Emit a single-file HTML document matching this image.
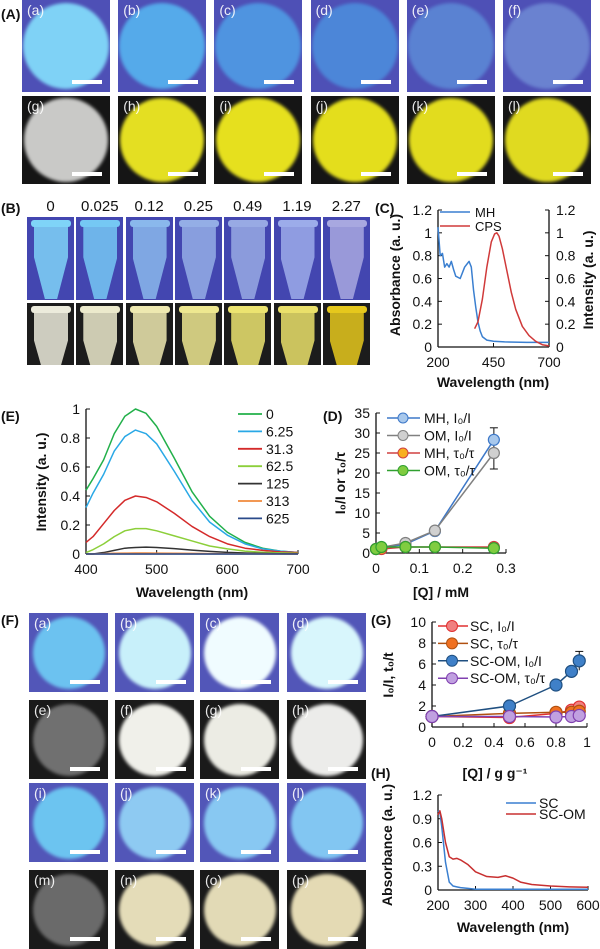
<!DOCTYPE html>
<html><head><meta charset="utf-8">
<style>
body{margin:0;width:600px;height:949px;background:#fff;position:relative;overflow:hidden;font-family:"Liberation Sans",sans-serif;}
.abs{position:absolute;}
.lbl{position:absolute;font-weight:bold;font-size:14px;color:#111;}
.tile{position:absolute;overflow:hidden;}
.tl{position:absolute;left:5px;top:2px;color:#fff;font-size:14px;opacity:.9}
.bar{position:absolute;height:4px;background:#fff;}
.num{position:absolute;font-size:15px;width:60px;text-align:center;color:#111}
svg{position:absolute;left:0;top:0;}
</style></head><body>
<div class="lbl" style="left:1px;top:6px">(A)</div>
<div class="lbl" style="left:1px;top:200px">(B)</div>
<div class="lbl" style="left:375px;top:200px">(C)</div>
<div class="lbl" style="left:1px;top:408px">(E)</div>
<div class="lbl" style="left:323px;top:408px">(D)</div>
<div class="lbl" style="left:1px;top:612px">(F)</div>
<div class="lbl" style="left:371px;top:612px">(G)</div>
<div class="lbl" style="left:371px;top:765px">(H)</div>
<div id="photos"></div>
<svg id="charts" width="600" height="949"></svg>
<script>
// ---------- Photo panels ----------
const aRow1 = ['#7fd2f6','#55aaea','#4f94e0','#4c86d8','#5a82d2','#6a82d0'];
const aRow2 = ['#c9c9c7','#e4df22','#e6e01e','#e4de1c','#e2dc1e','#e0da20'];
const aLetters1 = ['a','b','c','d','e','f'];
const aLetters2 = ['g','h','i','j','k','l'];
const tubeLabels = ['0','0.025','0.12','0.25','0.49','1.19','2.27'];
const tubeBlue = ['#7fd4f8','#75c8f4','#8ab8ec','#94aee6','#98aae4','#9cacea','#a8a8e0'];
const tubeYel = ['#ecebdc','#eceacc','#eee9b0','#eee890','#ece470','#eae06a','#e6c81c'];
const fBlue1 = ['#6cc2f0','#c8f0fa','#f0fcff','#d8f6fc'];
const fDark1 = ['#707070','#f0f0ea','#ecece4','#ececea'];
const fBlue2 = ['#6cc4f0','#8ecaf2','#88c8f2','#82c6f2'];
const fDark2 = ['#6a6a6a','#e4dcb8','#e2dab6','#e4dab4'];
const P = document.getElementById('photos');
function tile(x,y,w,h,bg,circ,letter,rad,name,bar){
  const d=document.createElement('div');
  d.className='tile';
  
  
  d.style.cssText=`left:${x}px;top:${y}px;width:${w}px;height:${h}px;background:${bg};`;
  const c=document.createElement('div');
  c.className='abs';
  c.style.cssText=`left:${w/2-rad}px;top:${h/2-rad}px;width:${2*rad}px;height:${2*rad}px;border-radius:50%;background:${circ};filter:blur(1.5px);`;
  d.appendChild(c);
  if(letter){const t=document.createElement('div');t.className='tl';t.textContent='('+letter+')';d.appendChild(t);}
  if(bar){const b=document.createElement('div');b.className='bar';b.style.cssText+=`left:${w-38}px;top:${h-12}px;width:${30}px;`;d.appendChild(b);}
  P.appendChild(d);
}
for(let i=0;i<6;i++){
  tile(22+i*96.2,0,88,92,'#4e50b6',aRow1[i],aLetters1[i],43,'photo-uv-'+aLetters1[i],true);
  tile(22+i*96.2,96,88,88,'#151515',aRow2[i],aLetters2[i],42,'photo-day-'+aLetters2[i],true);
}
for(let i=0;i<7;i++){
  const x=27+i*49.3;
  const n=document.createElement('div');
  n.className='num';
  
  
  n.style.left=(x+23.5-30)+'px';n.style.top='198px';n.textContent=tubeLabels[i];P.appendChild(n);
  for(const [y,h,bg,col,nm] of [[217,83,'#4346b0',tubeBlue[i],'tube-uv'],[303,62,'#1c1c1c',tubeYel[i],'tube-day']]){
    const d=document.createElement('div');
    d.className='tile';
    
    
    d.style.cssText=`left:${x}px;top:${y}px;width:47px;height:${h}px;background:${bg};`;
    const t=document.createElement('div');
    t.className='abs';
    t.style.cssText=`left:7px;top:6px;width:34px;height:${h===83?76:70}px;background:${col};clip-path:polygon(0 0,100% 0,100% 45%,68% 100%,32% 100%,0 45%);opacity:.85`;
    d.appendChild(t);
    const cap=document.createElement('div');cap.className='abs';
    cap.style.cssText=`left:4px;top:3px;width:40px;height:7px;background:${col};border-radius:3px;`;
    d.appendChild(cap);
    P.appendChild(d);
  }
}
const fx=[29,115,200,287], fy=[613,700,783,870];
const fl=[['a','b','c','d'],['e','f','g','h'],['i','j','k','l'],['m','n','o','p']];
const fc=[fBlue1,fDark1,fBlue2,fDark2];
const fbg=['#5256b8','#1a1a1a','#5256b8','#1a1a1a'];
for(let r=0;r<4;r++)for(let c=0;c<4;c++)
  tile(fx[c],fy[r],79,79,fbg[r],fc[r][c],fl[r][c],36,'photo-f-'+fl[r][c],true);

// ---------- Chart data ----------
// (C)
const cMHx = [200,210,220,230,240,250,260,270,280,300,320,340,350,360,370,380,390,400,420,450,500,600,700];
const cMHy = [1.05,0.8,0.82,0.7,0.73,0.7,0.75,0.68,0.62,0.6,0.7,0.75,0.7,0.5,0.35,0.22,0.14,0.09,0.06,0.05,0.045,0.04,0.04];
const cCPSx = [365,380,400,420,440,455,465,475,490,510,530,550,580,610,640,670,700];
const cCPSy = [0.16,0.22,0.42,0.7,0.92,0.99,1.0,0.97,0.86,0.67,0.48,0.33,0.18,0.1,0.05,0.02,0.01];
const cTicksY = [0,0.2,0.4,0.6,0.8,1,1.2];
const cTicksX = [200,450,700];
// (E)
const eX = [400,410,425,440,455,470,485,500,525,550,575,600,625,650,675,700];
const eLabels = ['0','6.25','31.3','62.5','125','313','625'];
const eColors = ['#22b04a','#29a8e6','#d42a2a','#8ccf3a','#333','#f08a3c','#2a4a8a'];
const e0   = [0.44,0.52,0.65,0.83,0.95,1.0,0.97,0.88,0.66,0.43,0.26,0.15,0.08,0.04,0.02,0.01];
const e625 = [0.32,0.42,0.55,0.71,0.81,0.855,0.83,0.76,0.57,0.37,0.22,0.13,0.07,0.035,0.02,0.01];
const e313 = [0.08,0.12,0.21,0.3,0.37,0.4,0.39,0.36,0.28,0.19,0.12,0.07,0.04,0.025,0.015,0.01];
const e625b= [0.01,0.03,0.07,0.12,0.16,0.175,0.175,0.16,0.125,0.09,0.055,0.035,0.02,0.012,0.008,0.005];
const e125 = [0,0,0.01,0.025,0.04,0.045,0.047,0.045,0.037,0.027,0.018,0.011,0.007,0.004,0.002,0.001];
const e313b= [0,0,0.003,0.005,0.006,0.007,0.007,0.006,0.005,0.004,0.003,0.002,0.001,0.001,0,0];
const e625c= [0,0,0,0,0,0,0,0,0,0,0,0,0,0,0,0];
const eSeries = [e0,e625,e313,e625b,e125,e313b,e625c];
// (D)
const dX = [0,0.0125,0.068,0.136,0.272];
const dMHI = [1,1.3,2.2,5.5,28.3];
const dOMI = [1,1.4,2.5,5.6,25];
const dMHT = [1,1.0,1.5,1.5,1.5];
const dOMT = [1,1.5,1.5,1.5,1.2];
const dErr = [0,0,0,0,3];
const dNames = ['MH, I\u2080/I','OM, I\u2080/I','MH, \u03c4\u2080/\u03c4','OM, \u03c4\u2080/\u03c4'];
// (G)
const gX = [0,0.5,0.8,0.9,0.95];
const gSCI = [1,0.9,1.3,1.6,1.9];
const gSCT = [1,1.3,1.4,1.4,1.5];
const gOMI = [1,2,4,5.3,6.3];
const gOMT = [1,1,0.95,1,1.1];
const gErr = [0,0,0,0.4,0.9];
const gNames = ['SC, I\u2080/I','SC, \u03c4\u2080/\u03c4','SC-OM, I\u2080/I','SC-OM, \u03c4\u2080/\u03c4'];
// (H)
const hX = [200,205,210,220,230,240,250,260,280,300,330,360,380,400,420,450,500,550,600];
const hSC = [1.0,0.98,0.8,0.35,0.1,0.05,0.04,0.03,0.02,0.01,0.01,0.01,0.01,0.01,0.01,0.01,0.01,0.01,0.01];
const hOM = [0.95,1.0,0.9,0.6,0.42,0.39,0.4,0.38,0.32,0.23,0.17,0.16,0.18,0.15,0.1,0.07,0.05,0.04,0.035];

// ---------- Drawing helpers ----------
const S=document.getElementById('charts');
const NS='http://www.w3.org/2000/svg';
function el(tag,attrs,name,parent){
  const e=document.createElementNS(NS,tag);
  for(const k in attrs)e.setAttribute(k,attrs[k]);
  
  
  (parent||S).appendChild(e);return e;
}
function txt(x,y,s,name,opts){
  opts=opts||{};
  const t=el('text',{x:x,y:y,'font-size':opts.size||14,'text-anchor':opts.anchor||'middle','font-weight':opts.bold?'bold':'normal',fill:'#111','font-family':'Liberation Sans, DejaVu Sans, sans-serif'},name);
  if(opts.rot)t.setAttribute('transform',`rotate(-90 ${x} ${y})`);
  t.textContent=s;return t;
}
function scale(d0,d1,r0,r1){return v=>r0+(v-d0)/(d1-d0)*(r1-r0);}
function poly(xs,ys,sx,sy,color,name,w){
  el('polyline',{points:xs.map((x,i)=>sx(x)+','+sy(ys[i])).join(' '),fill:'none',stroke:color,'stroke-width':w||1.5,'stroke-linejoin':'round'},name);
}
function axes(sx,sy,x0,x1,y0,y1,xt,yt,name,opt){
  opt=opt||{};
  el('line',{x1:sx(x0),y1:sy(y0),x2:sx(x0),y2:sy(y1),stroke:'#111','stroke-width':1.3},name+'-y-axis');
  el('line',{x1:sx(x0),y1:sy(y0),x2:sx(x1),y2:sy(y0),stroke:'#111','stroke-width':1.3},name+'-x-axis');
  yt.forEach(v=>{el('line',{x1:sx(x0),y1:sy(v),x2:sx(x0)+4,y2:sy(v),stroke:'#111'},name+'-y-tick');
    txt(sx(x0)-6,sy(v)+5,String(v),name+'-y-tick-label',{anchor:'end',size:opt.fs||14});});
  xt.forEach(v=>{el('line',{x1:sx(v),y1:sy(y0),x2:sx(v),y2:sy(y0)-4,stroke:'#111'},name+'-x-tick');
    txt(sx(v),sy(y0)+20,String(v),name+'-x-tick-label',{size:opt.fs||14});});
}
function markers(xs,ys,sx,sy,fill,stroke,name,r){
  xs.forEach((x,i)=>el('circle',{cx:sx(x),cy:sy(ys[i]),r:r||5,fill:fill,stroke:stroke,'stroke-width':1.2},name));
}

// ---------- (C) ----------
{
  const sx=scale(200,700,438,549), sy=scale(0,1.2,347,210);
  axes(sx,sy,200,700,0,1.2,cTicksX,cTicksY,'c');
  el('line',{x1:549,y1:sy(0),x2:549,y2:sy(1.2),stroke:'#111','stroke-width':1.3},'c-right-axis');
  cTicksY.forEach(v=>{el('line',{x1:549,y1:sy(v),x2:545,y2:sy(v),stroke:'#111'},'c-right-tick');
    txt(556,sy(v)+5,String(v),'c-right-tick-label',{anchor:'start'});});
  poly(cMHx,cMHy,sx,sy,'#3a7fd0','c-mh-line');
  poly(cCPSx,cCPSy,sx,sy,'#d03a3a','c-cps-line');
  el('line',{x1:440,y1:212,x2:470,y2:212,stroke:'#3a7fd0','stroke-width':1.5},'c-legend-mh-swatch');
  txt(475,217,'MH','c-legend-mh',{anchor:'start',size:13});
  el('line',{x1:440,y1:226,x2:470,y2:226,stroke:'#d03a3a','stroke-width':1.5},'c-legend-cps-swatch');
  txt(475,231,'CPS','c-legend-cps',{anchor:'start',size:13});
  txt(400,275,'Absorbance (a. u.)','c-y-title',{rot:1,bold:1});
  txt(593,280,'Intensity (a. u.)','c-y2-title',{rot:1,bold:1});
  txt(493,387,'Wavelength (nm)','c-x-title',{bold:1});
}
// ---------- (E) ----------
{
  const sx=scale(400,700,86,298), sy=scale(0,1,554,409);
  axes(sx,sy,400,700,0,1,[400,500,600,700],[0,0.2,0.4,0.6,0.8,1],'e');
  eSeries.forEach((s,i)=>poly(eX,s,sx,sy,eColors[i],'e-curve-'+eLabels[i]));
  eLabels.forEach((l,i)=>{const y=414+i*17.4;
    el('line',{x1:238,y1:y,x2:262,y2:y,stroke:eColors[i],'stroke-width':1.8},'e-legend-swatch');
    txt(266,y+5,l,'e-legend-entry',{anchor:'start'});});
  txt(46,482,'Intensity (a. u.)','e-y-title',{rot:1,bold:1});
  txt(192,597,'Wavelength (nm)','e-x-title',{bold:1});
}
// ---------- (D) ----------
{
  const sx=scale(0,0.3,376,506), sy=scale(0,35,553,413);
  axes(sx,sy,0,0.3,0,35,[0,0.1,0.2,0.3],[0,5,10,15,20,25,30,35],'d');
  dX.forEach((x,i)=>{if(dErr[i]){
    el('line',{x1:sx(x),y1:sy(dOMI[i]-dErr[i]-1),x2:sx(x),y2:sy(dMHI[i]+dErr[i]),stroke:'#111'},'d-error-bar');
    el('line',{x1:sx(x)-4,y1:sy(dMHI[i]+dErr[i]),x2:sx(x)+4,y2:sy(dMHI[i]+dErr[i]),stroke:'#111'},'d-error-cap');
    el('line',{x1:sx(x)-4,y1:sy(dOMI[i]-dErr[i]-1),x2:sx(x)+4,y2:sy(dOMI[i]-dErr[i]-1),stroke:'#111'},'d-error-cap');}});
  const ds=[[dMHI,'#3d78c8','#a8c8ec'],[dOMI,'#808080','#d0d0d0'],[dMHT,'#d04040','#f8b020'],[dOMT,'#30a030','#80cc40']];
  ds.forEach((d,k)=>{poly(dX,d[0],sx,sy,d[1],'d-line-'+k);markers(dX,d[0],sx,sy,d[2],d[1],'d-point-'+k,5.5);});
  dNames.forEach((n,i)=>{const y=418+i*17.5;
    el('line',{x1:387,y1:y,x2:420,y2:y,stroke:ds[i][1],'stroke-width':1.5},'d-legend-swatch');
    el('circle',{cx:403,cy:y,r:5,fill:ds[i][2],stroke:ds[i][1]},'d-legend-marker');
    txt(424,y+5,n,'d-legend-entry',{anchor:'start'});});
  txt(345,483,'I\u2080/I or \u03c4\u2080/\u03c4','d-y-title',{rot:1,bold:1});
  txt(441,597,'[Q] / mM','d-x-title',{bold:1});
}
// ---------- (G) ----------
{
  const sx=scale(0,1,432,587), sy=scale(0,10,727,622);
  axes(sx,sy,0,1,0,10,[0,0.2,0.4,0.6,0.8,1],[0,2,4,6,8,10],'g');
  gX.forEach((x,i)=>{if(gErr[i]){
    el('line',{x1:sx(x),y1:sy(gOMI[i]-gErr[i]),x2:sx(x),y2:sy(gOMI[i]+gErr[i]),stroke:'#111'},'g-error-bar');
    el('line',{x1:sx(x)-4,y1:sy(gOMI[i]+gErr[i]),x2:sx(x)+4,y2:sy(gOMI[i]+gErr[i]),stroke:'#111'},'g-error-cap');}});
  const gs=[[gSCI,'#e03030','#f08080'],[gSCT,'#b05010','#f07020'],[gOMI,'#1f4f80','#3f80c8'],[gOMT,'#8040b0','#c0a0e0']];
  gs.forEach((d,k)=>{poly(gX,d[0],sx,sy,d[1],'g-line-'+k);markers(gX,d[0],sx,sy,d[2],d[1],'g-point-'+k,6);});
  gNames.forEach((n,i)=>{const y=626+i*17.4;
    el('line',{x1:438,y1:y,x2:468,y2:y,stroke:gs[i][1],'stroke-width':1.5},'g-legend-swatch');
    el('circle',{cx:452,cy:y,r:5.5,fill:gs[i][2],stroke:gs[i][1]},'g-legend-marker');
    txt(470,y+5,n,'g-legend-entry',{anchor:'start'});});
  txt(393,675,'I\u2080/I, t\u2080/t','g-y-title',{rot:1,bold:1});
  txt(495,778,'[Q] / g g\u207B\u00B9','g-x-title',{bold:1});
}
// ---------- (H) ----------
{
  const sx=scale(200,600,438,588), sy=scale(0,1.2,890,795);
  axes(sx,sy,200,600,0,1.2,[200,300,400,500,600],[0,0.3,0.6,0.9,1.2],'h');
  poly(hX,hSC,sx,sy,'#3a7fd0','h-sc-line');
  poly(hX,hOM,sx,sy,'#c83030','h-scom-line');
  el('line',{x1:506,y1:803,x2:536,y2:803,stroke:'#3a7fd0','stroke-width':1.5},'h-legend-sc-swatch');
  txt(539,808,'SC','h-legend-sc',{anchor:'start'});
  el('line',{x1:506,y1:814,x2:536,y2:814,stroke:'#c83030','stroke-width':1.5},'h-legend-scom-swatch');
  txt(539,819,'SC-OM','h-legend-scom',{anchor:'start'});
  txt(392,845,'Absorbance (a. u.)','h-y-title',{rot:1,bold:1});
  txt(513,932,'Wavelength (nm)','h-x-title',{bold:1});
}
</script>
</body></html>
